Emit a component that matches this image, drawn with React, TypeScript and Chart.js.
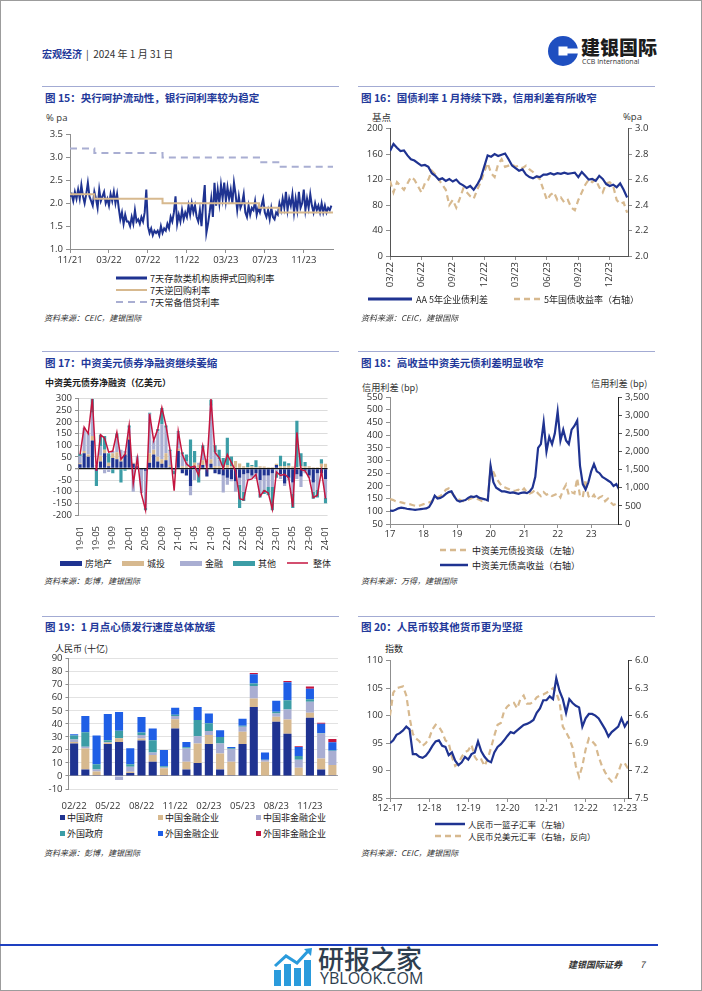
import React, { useEffect, useRef } from "react";
import { Chart, registerables } from "chart.js";

Chart.register(...registerables);

// ---------------- Figure 15 ----------------
const c15TickPos = [0, 4, 8, 12, 16, 20, 24];
const c15TickLabels = ["11/21", "03/22", "07/22", "11/22", "03/23", "07/23", "11/23"];
const c15YTicks = [1.0, 1.5, 2.0, 2.5, 3.0, 3.5];
// DR007, ~6 readings per month from Nov 2021
const c15Dr007 = [
  2.15, 2.2, 2.05, 2.25, 2.1, 2.3,
  2.1, 2.4, 2.15, 2.0, 2.2, 2.45,
  2.15, 2.05, 1.95, 2.25, 2.1, 1.9,
  2.3, 2.05, 2.15, 2.25, 2.0, 2.1,
  1.95, 2.2, 2.05, 2.25, 2.0, 2.2,
  1.9, 1.65, 1.8, 1.55, 1.75, 1.6,
  1.6, 1.5, 1.7, 1.55, 1.85, 1.6,
  1.65, 1.55, 1.7, 1.6, 1.8, 2.3,
  1.5, 1.35, 1.45, 1.3, 1.4, 1.35,
  1.4, 1.3, 1.5, 1.35, 1.45, 1.4,
  1.55, 1.45, 1.7, 1.6, 1.8, 2.15,
  1.55, 1.75, 1.6, 1.85, 1.65, 1.8,
  1.7, 1.95, 1.75, 2.0, 1.8, 1.95,
  1.7, 1.6, 1.85, 1.5, 2.0, 2.4,
  1.35, 1.55, 1.8, 2.1, 1.7, 2.45,
  1.95, 2.3, 2.0, 2.4, 2.1, 2.45,
  2.05, 2.35, 2.1, 2.3, 2.0, 2.45,
  2.2, 1.85, 2.15, 1.9, 2.0, 2.2,
  1.8, 1.7, 1.95, 1.75, 1.9, 1.85,
  2.05, 1.75, 1.9, 1.8, 1.95, 2.1,
  1.8, 1.7, 1.85, 1.65, 1.9, 1.7,
  1.65, 1.8, 1.75, 2.0, 1.85, 2.1,
  1.9, 2.25, 1.85, 2.1, 1.95, 2.2,
  1.8, 2.1, 1.85, 2.25, 1.9, 2.0,
  2.3, 1.85, 2.1, 1.9, 2.2, 1.95,
  1.8, 2.0, 1.85, 1.95, 1.8, 2.0,
  1.8, 1.95, 1.8, 1.9, 1.85, 1.95,
];
const c15RepoFrom = [0, 2.5, 9.5, 19.4, 21.5, 27];
const c15RepoRate = [2.2, 2.1, 2.0, 1.9, 1.8, 1.8];
const c15SlfFrom = [0, 2.5, 9.5, 19.4, 21.5, 27];
const c15SlfRate = [3.2, 3.1, 3.0, 2.9, 2.8, 2.8];

// ---------------- Figure 16 ----------------
const c16TickPos = [0, 3, 6, 9, 12, 15, 18, 21];
const c16TickLabels = ["03/22", "06/22", "09/22", "12/22", "03/23", "06/23", "09/23", "12/23"];
const c16LeftTicks = [0, 40, 80, 120, 160, 200];
const c16RightTicks = [2.0, 2.2, 2.4, 2.6, 2.8, 3.0];
// ~3 readings per month from Mar 2022
const c16Spread = [
  165, 176, 170, 165, 166, 158, 152, 150, 146, 142,
  143, 140, 130, 126, 120, 122, 118, 121, 117, 120,
  114, 111, 107, 110, 104, 112, 122, 140, 158, 156,
  160, 157, 159, 161, 152, 142, 138, 134, 136, 128,
  124, 122, 125, 124, 128, 128, 130, 128, 130, 129,
  131, 129, 130, 131, 124, 132, 126, 120, 121, 118,
  126, 121, 113, 110, 112, 108, 114, 104, 92,
];
const c16Yield = [
  2.59, 2.5, 2.58, 2.55, 2.52, 2.57, 2.62, 2.6, 2.55, 2.5,
  2.57, 2.6, 2.67, 2.64, 2.6, 2.56, 2.52, 2.4, 2.44, 2.38,
  2.45, 2.53, 2.5, 2.47, 2.45, 2.52, 2.58, 2.66, 2.73, 2.65,
  2.62, 2.72, 2.76, 2.7, 2.71, 2.72, 2.7, 2.71, 2.69, 2.71,
  2.68, 2.66, 2.63, 2.6, 2.52, 2.44, 2.48, 2.5, 2.44, 2.46,
  2.42, 2.44, 2.38, 2.36, 2.44, 2.5, 2.56, 2.6, 2.58, 2.6,
  2.54, 2.5, 2.57, 2.58, 2.55, 2.44, 2.41, 2.42, 2.34,
];

// ---------------- Figure 17 ----------------
const c17Years = ["19", "20", "21", "22", "23"];
const c17MonthNames = ["01", "02", "03", "04", "05", "06", "07", "08", "09", "10", "11", "12"];
const c17Months = [...c17Years.flatMap((y) => c17MonthNames.map((m) => `${y}-${m}`)), "24-01"];
const c17YTicks = [-200, -150, -100, -50, 0, 50, 100, 150, 200, 250, 300];
const c17Property = [
  18, 65, 50, 120, -10, 30, 65, 10, 45, 40, 30, 60, 125, 20, 10, -5, -10, 25, 60, 30,
  20, 35, 5, -5, 75, -20, -30, -75, 10, -10, 15, -35, 20, -20, -25, -30,
  -40, -45, -55, -40, -25, -20, -30, -20, -50, -30, -30, -20, 15, -25, -65, -40, -60, -25, -35, -10, -30, -60, -20, -20, -45,
];
const c17Lgfv = [
  5, 10, 10, 20, 5, 25, 15, 15, 20, 30, 10, 5, 10, 5, 5, 0, 0, 40, 20, 20,
  20, 30, 10, 0, 10, 10, 10, 5, 15, 15, 20, 10, 20, 10, 10, 5,
  15, 10, 32, 21, 10, 5, 10, 5, 10, 8, 5, 5, 5, 10, 10, 12, 8, 5, 10, 8, 10, 5, 5, 20, 20,
];
const c17Financial = [
  30, 100, 95, 100, 10, 40, -20, -15, 10, 60, 40, 10, 40, -100, 40, -100, -160, 170, 40, 110,
  150, 110, 60, -5, 70, 50, 20, -40, -50, 10, 50, 30, 230, 60, 30, -73,
  -30, -10, -45, -30, -75, -30, -10, -25, -60, -60, -50, -60, -20, -20, -10, -10, -50, -20, -45, -10, -10, -40, -70, -10, -80,
];
const c17Other = [
  10, 0, 0, 60, -65, 50, 60, 40, -20, 20, -60, -10, 10, 0, 0, 0, -10, 5, 0, 10,
  70, 10, 5, -15, 5, 10, 30, 120, 50, -50, 15, 0, 25, 30, 40, 40,
  117, 42, 0, -100, -40, 20, 5, 30, -15, -20, -35, -100, -20, 45, 20, 10, -60, 200, 55, 20, 0, -30, -35, 20, -25,
];
const c17Total = [
  60, 178, 150, 300, -10, 145, 130, 70, 75, 155,
  40, 60, 185, -65, 45, -110, -178, 235, 120, 170,
  262, 185, 80, -95, 160, 60, 20, 5, 10, -30,
  96, 5, 298, 68, 47, 0, 60, 25, -10, -130,
  -135, -50, -45, -25, -120, -95, -105, -175, -15, -30,
  -25, -40, -165, 155, -5, -10, -40, -125, -115, -10, -130,
];

// ---------------- Figure 18 ----------------
const c18XTicks = [17, 18, 19, 20, 21, 22, 23];
const c18LeftTicks = [50, 100, 150, 200, 250, 300, 350, 400, 450, 500, 550];
const c18RightTicks = [0, 500, 1000, 1500, 2000, 2500, 3000, 3500];
// monthly from Jan 2017
const c18InvGrade = [
  148, 145, 140, 138, 135, 132, 130, 128, 125, 122, 120, 124,
  128, 130, 135, 140, 150, 155, 160, 170, 185, 190, 175, 160,
  150, 145, 140, 140, 145, 150, 155, 150, 145, 140, 140, 145,
  275, 255, 230, 215, 200, 195, 190, 185, 180, 182, 185, 178,
  190, 175, 170, 175, 185, 170, 160, 175, 165, 170, 160, 165,
  170, 155, 185, 205, 165, 175, 170, 230, 160, 155, 225, 160,
  150, 165, 145, 155, 160, 140, 150, 135, 125, 130, 118,
];
const c18HighYield = [
  370, 360, 390, 430, 450, 440, 420, 410, 400, 390, 400, 410,
  420, 430, 470, 600, 780, 700, 720, 760, 830, 880, 900, 760,
  650, 620, 640, 660, 720, 760, 740, 770, 720, 700, 680, 650,
  1600, 1150, 1000, 950, 900, 900, 880, 860, 870, 850, 830, 860,
  870, 850, 900, 1000, 1300, 2100, 2200, 2800, 2000, 2400, 2200, 2500,
  3100, 2300, 2600, 2300, 2200, 2600, 2700, 2850, 1600, 1100, 950, 1150,
  1450, 1650, 1450, 1400, 1300, 1250, 1200, 1150, 1050, 1100, 950,
];

// ---------------- Figure 19 ----------------
const c19Months = [
  "02/22", "03/22", "04/22", "05/22", "06/22", "07/22", "08/22", "09/22", "10/22", "11/22", "12/22", "01/23",
  "02/23", "03/23", "04/23", "05/23", "06/23", "07/23", "08/23", "09/23", "10/23", "11/23", "12/23", "01/24",
];
const c19YTicks = [-10, 0, 10, 20, 30, 40, 50, 60, 70, 80, 90];
const c19CnGov = [25, 5, 0.5, 24.5, 26, 2.3, 27.3, 11, 0.5, 36.5, 5, 10, 24.5, 5, 0.5, 24.5, 53, 0, 41.6, 32.4, 0.3, 44.6, 5, 0.5];
const c19CnFin = [1, 16, 3, 1, 3, 1, 1.5, 5, 5.5, 7, 6, 15, 7, 12.3, 10.5, 9.5, 6.4, 11, 3.8, 11, 6, 4, 8.5, 8];
const c19CnNonFin = [2, 1.5, 1.5, 0.5, -3, 3.7, 2.6, 2, 0.5, 2.5, 10, 5.4, 3, 7.7, 9.7, 3.7, 9.6, 1.3, 2.6, 7.6, 6.2, 8.3, 19, 10.6];
const c19FgGov = [3, 11, 4, 1.5, 5.7, 2, 2, 9.5, 1, 1, 1, 12.5, 6, 5, 0.5, 0.8, 2, 0.2, 1.2, 7.2, 2.8, 2, 0.5, 0.5];
const c19FgFin = [1, 12.5, 22, 20, 14.3, 12.2, 11.8, 9, 12.5, 5.3, 4, 10, 7.4, 5, 1, 5.5, 7, 5.5, 8.5, 13.8, 7, 8, 7, 6.2];
const c19FgNonFin = [0, 0, 0, 0, 0, 0, 0, 0, 0, 0, 0, 0, 0, 0, 0, 0, 1, 0, 0, 0.8, 0.6, 1.7, 0.8, 2.6];

// ---------------- Figure 20 ----------------
const c20XTicks = [0, 12, 24, 36, 48, 60, 72];
const c20XLabels = ["12-17", "12-18", "12-19", "12-20", "12-21", "12-22", "12-23"];
const c20LeftTicks = [85, 90, 95, 100, 105, 110];
const c20RightTicks = [6.0, 6.3, 6.6, 6.9, 7.2, 7.5];
// monthly from Dec 2017
const c20Basket = [
  95.0, 95.5, 96.5, 96.8, 97.3, 98.0, 97.5, 93.0, 93.0, 92.5, 92.3, 92.7,
  93.5, 94.5, 95.3, 95.5, 94.5, 94.3, 92.8, 93.3, 91.8, 91.0, 91.5, 92.5,
  92.0, 93.0, 93.3, 95.3, 93.5, 92.5, 91.8, 91.5, 93.3, 94.3, 94.8, 95.5,
  96.3, 97.0, 96.8, 97.3, 97.8, 98.3, 98.5, 98.8, 99.2, 100.5, 101.3, 102.8,
  102.8, 103.5, 103.0, 106.8, 104.5, 103.0, 100.5, 103.0, 102.3, 101.8, 101.5, 98.0,
  99.5, 100.3, 100.3, 100.0, 99.5, 98.5, 97.5, 96.2, 97.0, 97.5, 98.0, 99.5,
  98.0, 99.0,
];
const c20UsdCny = [
  6.6, 6.35, 6.3, 6.29, 6.28, 6.38, 6.62, 6.8, 6.85, 6.88, 6.93, 6.9,
  6.85, 6.75, 6.7, 6.72, 6.78, 6.87, 6.9, 7.05, 7.15, 7.12, 7.05, 7.0,
  6.98, 6.92, 7.05, 7.1, 7.08, 7.15, 7.07, 6.95, 6.82, 6.7, 6.68, 6.55,
  6.5, 6.47, 6.46, 6.52, 6.42, 6.38, 6.47, 6.47, 6.45, 6.4, 6.38, 6.37,
  6.35, 6.33, 6.3, 6.35, 6.45, 6.72, 6.78, 6.85, 6.95, 7.15, 7.27, 7.15,
  6.97, 6.85, 6.88, 6.92, 7.05, 7.15, 7.22, 7.28, 7.32, 7.3, 7.22, 7.12,
  7.12, 7.18,
];

// ---------------- styles ----------------
const NAVY = "#1F3391";
const TAN = "#D7B98F";
const LAV = "#A9AED2";
const TEAL = "#3C9DA6";
const RED = "#C4153F";
const BRIGHT = "#1F5FE6";
const TITLE = "#23399A";
const AXIS = "#8F8F8F";
const DARKAXIS = "#555555";
const TXT = "#333333";
const CJK = "'Noto Sans CJK SC', 'Noto Sans', sans-serif";
const LATIN = "'Open Sans', 'Noto Sans', sans-serif";
const TICKFONT = { family: LATIN, size: 9.5 };

const fixW = (w: number) => (s: any) => { s.width = w; };
const fixH = (h: number) => (s: any) => { s.height = h; };
const setTicks = (vals: number[]) => (s: any) => { s.ticks = vals.map((v) => ({ value: v })); };
const labelFrom = (pos: number[], labels: string[]) => (v: any) => {
  const k = pos.indexOf(Number(v));
  return k >= 0 ? labels[k] : "";
};

function base(padding: any) {
  return {
    responsive: false,
    animation: false,
    devicePixelRatio: 1,
    events: [],
    layout: { padding },
    plugins: { legend: { display: false }, tooltip: { enabled: false }, title: { display: false } },
  };
}

function tickAxisGrid(color = AXIS) {
  return { drawOnChartArea: false, drawTicks: true, tickLength: 4, color };
}

// ---------------- configs ----------------
function cfg15() {
  return {
    type: "line",
    data: {
      datasets: [
        { data: c15RepoFrom.map((x, i) => ({ x, y: c15RepoRate[i] })), borderColor: TAN, borderWidth: 2, stepped: true, pointRadius: 0 },
        { data: c15SlfFrom.map((x, i) => ({ x, y: c15SlfRate[i] })), borderColor: LAV, borderWidth: 2, borderDash: [7, 5], stepped: true, pointRadius: 0 },
        { data: c15Dr007.map((y, i) => ({ x: i / 6, y })), borderColor: NAVY, borderWidth: 2, pointRadius: 0, tension: 0 },
      ],
    },
    options: {
      ...base({ top: 8, right: 7, left: 0, bottom: 0 }),
      scales: {
        x: {
          type: "linear", min: 0, max: 27,
          afterFit: fixH(19), afterBuildTicks: setTicks(c15TickPos),
          ticks: { callback: labelFrom(c15TickPos, c15TickLabels), font: TICKFONT, color: TXT, maxRotation: 0, autoSkip: false, padding: 2 },
          grid: tickAxisGrid(), border: { color: AXIS },
        },
        y: {
          min: 1, max: 3.5, afterFit: fixW(30), afterBuildTicks: setTicks(c15YTicks),
          ticks: { callback: (v: any) => Number(v).toFixed(1), font: TICKFONT, color: TXT, padding: 3, autoSkip: false },
          grid: tickAxisGrid(), border: { color: AXIS },
        },
      },
    },
  };
}

function cfg16() {
  return {
    type: "line",
    data: {
      datasets: [
        { data: c16Spread.map((y, i) => ({ x: i / 3, y })), yAxisID: "y", borderColor: NAVY, borderWidth: 2.2, pointRadius: 0, tension: 0 },
        { data: c16Yield.map((y, i) => ({ x: i / 3, y })), yAxisID: "y1", borderColor: TAN, borderWidth: 2.2, borderDash: [6, 4], pointRadius: 0, tension: 0 },
      ],
    },
    options: {
      ...base({ top: 8, right: 0, left: 0, bottom: 0 }),
      scales: {
        x: {
          type: "linear", min: 0, max: 22.75,
          afterFit: fixH(39), afterBuildTicks: setTicks(c16TickPos),
          ticks: { callback: labelFrom(c16TickPos, c16TickLabels), font: TICKFONT, color: TXT, minRotation: 90, maxRotation: 90, autoSkip: false, padding: 2 },
          grid: tickAxisGrid(), border: { color: DARKAXIS },
        },
        y: {
          position: "left", min: 0, max: 200, afterFit: fixW(35), afterBuildTicks: setTicks(c16LeftTicks),
          ticks: { font: TICKFONT, color: TXT, padding: 3, autoSkip: false },
          grid: tickAxisGrid(), border: { color: DARKAXIS },
        },
        y1: {
          position: "right", min: 2.0, max: 3.0, afterFit: fixW(37), afterBuildTicks: setTicks(c16RightTicks),
          ticks: { callback: (v: any) => Number(v).toFixed(1), font: TICKFONT, color: TXT, padding: 3, autoSkip: false },
          grid: tickAxisGrid(), border: { color: DARKAXIS },
        },
      },
    },
  };
}

function cfg17() {
  const bar = (label: string, data: number[], color: string) => ({
    type: "bar", label, data, backgroundColor: color, stack: "s", order: 1, barPercentage: 0.78, categoryPercentage: 1.0,
  });
  return {
    type: "bar",
    data: {
      labels: c17Months,
      datasets: [
        { type: "line", label: "整体", data: c17Total, borderColor: RED, borderWidth: 1.5, pointRadius: 0, tension: 0, stack: "total", order: 0 },
        bar("房地产", c17Property, NAVY),
        bar("城投", c17Lgfv, TAN),
        bar("金融", c17Financial, LAV),
        bar("其他", c17Other, TEAL),
      ],
    },
    options: {
      ...base({ top: 7, right: 9, left: 0, bottom: 0 }),
      scales: {
        x: {
          stacked: true, afterFit: fixH(35),
          ticks: { callback: (_v: any, i: number) => (i % 4 === 0 ? c17Months[i] : ""), font: TICKFONT, color: TXT, minRotation: 90, maxRotation: 90, autoSkip: false, padding: 3 },
          grid: { display: false }, border: { display: false },
        },
        y: {
          stacked: true, min: -200, max: 300, afterFit: fixW(38), afterBuildTicks: setTicks(c17YTicks),
          ticks: { font: TICKFONT, color: TXT, padding: 3, autoSkip: false },
          grid: {
            drawTicks: true, tickLength: 3,
            color: (c: any) => (c.tick && c.tick.value === 0 ? "#111111" : "#DCDCDC"),
            lineWidth: (c: any) => (c.tick && c.tick.value === 0 ? 1.3 : 1),
            tickColor: AXIS,
          },
          border: { color: AXIS },
        },
      },
    },
  };
}

function cfg18() {
  return {
    type: "line",
    data: {
      datasets: [
        { data: c18HighYield.map((y, i) => ({ x: 17 + i / 12, y })), yAxisID: "y1", borderColor: NAVY, borderWidth: 2.2, pointRadius: 0, tension: 0 },
        { data: c18InvGrade.map((y, i) => ({ x: 17 + i / 12, y })), yAxisID: "y", borderColor: TAN, borderWidth: 2.2, borderDash: [6, 4], pointRadius: 0, tension: 0 },
      ],
    },
    options: {
      ...base({ top: 12, right: 0, left: 0, bottom: 0 }),
      scales: {
        x: {
          type: "linear", min: 17, max: 23.8,
          afterFit: fixH(16), afterBuildTicks: setTicks(c18XTicks),
          ticks: { callback: (v: any) => String(v), font: TICKFONT, color: TXT, maxRotation: 0, autoSkip: false, padding: 1 },
          grid: tickAxisGrid(), border: { color: AXIS },
        },
        y: {
          position: "left", min: 50, max: 550, afterFit: fixW(35), afterBuildTicks: setTicks(c18LeftTicks),
          ticks: { font: TICKFONT, color: TXT, padding: 3, autoSkip: false },
          grid: tickAxisGrid(), border: { color: AXIS },
        },
        y1: {
          position: "right", min: 0, max: 3500, afterFit: fixW(47), afterBuildTicks: setTicks(c18RightTicks),
          ticks: { callback: (v: any) => Number(v).toLocaleString("en-US"), font: TICKFONT, color: TXT, padding: 3, autoSkip: false },
          grid: tickAxisGrid(DARKAXIS), border: { color: "#222222" },
        },
      },
    },
  };
}

function cfg19() {
  const bar = (label: string, data: number[], color: string) => ({
    label, data, backgroundColor: color, stack: "s", barPercentage: 0.72, categoryPercentage: 1.0,
  });
  return {
    type: "bar",
    data: {
      labels: c19Months,
      datasets: [
        bar("中国政府", c19CnGov, NAVY),
        bar("中国金融企业", c19CnFin, TAN),
        bar("中国非金融企业", c19CnNonFin, LAV),
        bar("外国政府", c19FgGov, TEAL),
        bar("外国金融企业", c19FgFin, BRIGHT),
        bar("外国非金融企业", c19FgNonFin, RED),
      ],
    },
    options: {
      ...base({ top: 8, right: 2, left: 0, bottom: 0 }),
      scales: {
        x: {
          stacked: true, afterFit: fixH(21),
          ticks: { callback: (_v: any, i: number) => (i % 3 === 0 ? c19Months[i] : ""), font: TICKFONT, color: TXT, maxRotation: 0, autoSkip: false, padding: 4 },
          grid: { display: false }, border: { display: false },
        },
        y: {
          stacked: true, min: -10, max: 90, afterFit: fixW(28.5), afterBuildTicks: setTicks(c19YTicks),
          ticks: { font: TICKFONT, color: TXT, padding: 3, autoSkip: false },
          grid: {
            drawTicks: true, tickLength: 3,
            color: (c: any) => (c.tick && c.tick.value === 0 ? "#A6A6A6" : "#E2E2E2"),
            tickColor: AXIS,
          },
          border: { color: AXIS },
        },
      },
    },
  };
}

function cfg20() {
  return {
    type: "line",
    data: {
      datasets: [
        { data: c20Basket.map((y, i) => ({ x: i, y })), yAxisID: "y", borderColor: NAVY, borderWidth: 2.2, pointRadius: 0, tension: 0 },
        { data: c20UsdCny.map((y, i) => ({ x: i, y })), yAxisID: "y1", borderColor: TAN, borderWidth: 2.2, borderDash: [6, 4], pointRadius: 0, tension: 0 },
      ],
    },
    options: {
      ...base({ top: 8, right: 0, left: 0, bottom: 0 }),
      scales: {
        x: {
          type: "linear", min: 0, max: 73,
          afterFit: fixH(16), afterBuildTicks: setTicks(c20XTicks),
          ticks: { callback: labelFrom(c20XTicks, c20XLabels), font: TICKFONT, color: TXT, maxRotation: 0, autoSkip: false, padding: 1 },
          grid: tickAxisGrid(), border: { color: AXIS },
        },
        y: {
          position: "left", min: 85, max: 110, afterFit: fixW(35), afterBuildTicks: setTicks(c20LeftTicks),
          ticks: { font: TICKFONT, color: TXT, padding: 3, autoSkip: false },
          grid: tickAxisGrid(), border: { color: AXIS },
        },
        y1: {
          position: "right", min: 6.0, max: 7.5, reverse: true, afterFit: fixW(37), afterBuildTicks: setTicks(c20RightTicks),
          ticks: { callback: (v: any) => Number(v).toFixed(1), font: TICKFONT, color: TXT, padding: 3, autoSkip: false },
          grid: tickAxisGrid(DARKAXIS), border: { color: "#333333" },
        },
      },
    },
  };
}

// ---------------- components ----------------
function ChartCanvas({ x, y, w, h, make }: { x: number; y: number; w: number; h: number; make: () => any }) {
  const ref = useRef<HTMLCanvasElement>(null);
  useEffect(() => {
    const chart = new Chart(ref.current as HTMLCanvasElement, make());
    return () => chart.destroy();
  }, []);
  return <canvas ref={ref} width={w} height={h} style={{ position: "absolute", left: x, top: y, width: w, height: h }} />;
}

function Txt(props: any) {
  const { x, y, size = 9, color = "#222", bold = false, italic = false, family = CJK, weight, children } = props;
  return (
    <div
      style={{
        position: "absolute", left: x, top: y, fontSize: size, lineHeight: 1, color,
        fontWeight: weight || (bold ? 700 : 400), fontStyle: italic ? "italic" : "normal",
        fontFamily: family, whiteSpace: "nowrap",
      }}
    >
      {children}
    </div>
  );
}

function LineSample({ x, y, w, color, width, dash }: any) {
  return (
    <svg style={{ position: "absolute", left: x, top: y - 4, overflow: "visible" }} width={w} height={8}>
      <line x1={0} y1={4} x2={w} y2={4} stroke={color} strokeWidth={width} strokeDasharray={dash} />
    </svg>
  );
}

function Box({ x, y, w, h, color }: any) {
  return <div style={{ position: "absolute", left: x, top: y, width: w, height: h, background: color }} />;
}

function Title({ x, y, children }: any) {
  return <Txt x={x} y={y} size={10.5} color={TITLE} bold>{children}</Txt>;
}

function Source({ x, y, children }: any) {
  return <Txt x={x} y={y} size={8} color="#333" italic>{children}</Txt>;
}

export default function App() {
  return (
    <div style={{ position: "absolute", left: 0, top: 0, width: 702, height: 991, background: "#ffffff", overflow: "hidden" }}>
      {/* page frame */}
      <div style={{ position: "absolute", left: 0, top: 0, width: 702, height: 991, boxSizing: "border-box", border: "1px solid #9c9c9c" }} />

      {/* header */}
      <Txt x={42} y={49} size={10} color={TITLE} bold>宏观经济</Txt>
      <Txt x={86} y={49} size={10} color="#333">|&nbsp;&nbsp;2024 年 1 月 31 日</Txt>
      <svg style={{ position: "absolute", left: 548, top: 35 }} width={30} height={32} viewBox="0 0 30 32">
        <circle cx={15} cy={16} r={15} fill="#1F4FC0" />
        <rect x={10.5} y={11.5} width={9} height={9} fill="#fff" />
        <rect x={15} y={13.5} width={16} height={5} fill="#fff" />
      </svg>
      <Txt x={581} y={37} size={19} color="#1c1c1c" weight={900}>建银国际</Txt>
      <Txt x={582} y={58} size={7} color="#333" family={LATIN}>CCB International</Txt>

      {/* separators */}
      <Box x={42} y={86} w={297} h={1} color="#A3ABD3" />
      <Box x={358} y={86} w={297} h={1} color="#A3ABD3" />
      <Box x={42} y={351} w={297} h={1} color="#A3ABD3" />
      <Box x={358} y={351} w={297} h={1} color="#A3ABD3" />
      <Box x={42} y={616} w={297} h={1} color="#A3ABD3" />
      <Box x={358} y={616} w={297} h={1} color="#A3ABD3" />

      {/* Figure 15 */}
      <Title x={45} y={93}>图 15：央行呵护流动性，银行间利率较为稳定</Title>
      <Txt x={46} y={113} size={9.5} color={TXT} family={LATIN}>% pa</Txt>
      <ChartCanvas x={40} y={126} w={300} h={142} make={cfg15} />
      <LineSample x={116} y={278} w={31} color={NAVY} width={3} />
      <Txt x={150} y={273.5} size={9.2}>7天存款类机构质押式回购利率</Txt>
      <LineSample x={116} y={290} w={31} color={TAN} width={2} />
      <Txt x={150} y={285.5} size={9.2}>7天逆回购利率</Txt>
      <LineSample x={116} y={302} w={31} color={LAV} width={2} dash="7 5" />
      <Txt x={150} y={297.5} size={9.2}>7天常备借贷利率</Txt>
      <Source x={44} y={314}>资料来源：CEIC，建银国际</Source>

      {/* Figure 16 */}
      <Title x={361} y={93}>图 16：国债利率 1 月持续下跌，信用利差有所收窄</Title>
      <Txt x={372} y={112.5} size={9.5} color={TXT}>基点</Txt>
      <Txt x={623} y={112} size={9.5} color={TXT} family={LATIN}>%pa</Txt>
      <ChartCanvas x={355} y={120} w={310} h={175} make={cfg16} />
      <LineSample x={368} y={299} w={44} color={NAVY} width={3} />
      <Txt x={416} y={294.5} size={9}>AA 5年企业债利差</Txt>
      <LineSample x={514} y={299} w={27} color={TAN} width={2.5} dash="6 4" />
      <Txt x={544} y={294.5} size={9}>5年国债收益率（右轴）</Txt>
      <Source x={361} y={314}>资料来源：CEIC，建银国际</Source>

      {/* Figure 17 */}
      <Title x={45} y={358}>图 17：中资美元债券净融资继续萎缩</Title>
      <Txt x={45} y={377.5} size={9} color="#222" weight={600}>中资美元债券净融资（亿美元）</Txt>
      <ChartCanvas x={40} y={390} w={300} h={160} make={cfg17} />
      <Box x={60} y={560.5} w={22} h={5} color={NAVY} />
      <Txt x={85} y={558.5} size={9}>房地产</Txt>
      <Box x={122} y={560.5} w={22} h={5} color={TAN} />
      <Txt x={147} y={558.5} size={9}>城投</Txt>
      <Box x={180} y={560.5} w={22} h={5} color={LAV} />
      <Txt x={205} y={558.5} size={9}>金融</Txt>
      <Box x={233} y={560.5} w={22} h={5} color={TEAL} />
      <Txt x={258} y={558.5} size={9}>其他</Txt>
      <LineSample x={287} y={563} w={21} color={RED} width={1.5} />
      <Txt x={313} y={558.5} size={9}>整体</Txt>
      <Source x={44} y={577}>资料来源：彭博，建银国际</Source>

      {/* Figure 18 */}
      <Title x={361} y={358}>图 18：高收益中资美元债利差明显收窄</Title>
      <Txt x={362} y={382.5} size={9.2} color={TXT}>信用利差 (bp)</Txt>
      <Txt x={591} y={378.5} size={9.2} color={TXT}>信用利差 (bp)</Txt>
      <ChartCanvas x={355} y={385} w={310} h={155} make={cfg18} />
      <LineSample x={440} y={550} w={28} color={TAN} width={2.5} dash="6 4" />
      <Txt x={472} y={545.5} size={9}>中资美元债投资级（左轴）</Txt>
      <LineSample x={440} y={565} w={28} color={NAVY} width={2.5} />
      <Txt x={472} y={560.5} size={9}>中资美元债高收益（右轴）</Txt>
      <Source x={361} y={577}>资料来源：万得，建银国际</Source>

      {/* Figure 19 */}
      <Title x={45} y={622}>图 19：1 月点心债发行速度总体放缓</Title>
      <Txt x={55} y={643.5} size={9} color="#222">人民币 (十亿)</Txt>
      <ChartCanvas x={40} y={650} w={300} h={160} make={cfg19} />
      <Box x={60} y={814.5} w={5} h={5} color={NAVY} />
      <Txt x={67} y={812.5} size={9}>中国政府</Txt>
      <Box x={158} y={814.5} w={5} h={5} color={TAN} />
      <Txt x={165} y={812.5} size={9}>中国金融企业</Txt>
      <Box x={256} y={814.5} w={5} h={5} color={LAV} />
      <Txt x={263} y={812.5} size={9}>中国非金融企业</Txt>
      <Box x={60} y={830.5} w={5} h={5} color={TEAL} />
      <Txt x={67} y={828.5} size={9}>外国政府</Txt>
      <Box x={158} y={830.5} w={5} h={5} color={BRIGHT} />
      <Txt x={165} y={828.5} size={9}>外国金融企业</Txt>
      <Box x={256} y={830.5} w={5} h={5} color={RED} />
      <Txt x={263} y={828.5} size={9}>外国非金融企业</Txt>
      <Source x={44} y={849}>资料来源：彭博，建银国际</Source>

      {/* Figure 20 */}
      <Title x={361} y={622}>图 20：人民币较其他货币更为坚挺</Title>
      <Txt x={385} y={643.5} size={9} color="#222">指数</Txt>
      <ChartCanvas x={355} y={652} w={310} h={162} make={cfg20} />
      <LineSample x={435} y={824} w={30} color={NAVY} width={2.5} />
      <Txt x={468} y={819.5} size={8.5}>人民币一篮子汇率（左轴）</Txt>
      <LineSample x={435} y={836} w={30} color={TAN} width={2.5} dash="6 4" />
      <Txt x={468} y={831.5} size={8.5}>人民币兑美元汇率（右轴，反向）</Txt>
      <Source x={361} y={849}>资料来源：CEIC，建银国际</Source>

      {/* footer */}
      <Box x={0} y={944} w={658} h={2} color="#1E40C0" />
      <svg style={{ position: "absolute", left: 273, top: 948 }} width={40} height={38} viewBox="0 0 40 38">
        <rect x={1} y={22} width={7} height={16} fill="#2A9BDC" />
        <rect x={11} y={16} width={7} height={22} fill="#2A9BDC" />
        <rect x={21} y={20} width={7} height={18} fill="#2A9BDC" />
        <rect x={31} y={12} width={7} height={26} fill="#2A9BDC" />
        <polyline points="2,18 13,8 24,15 36,2" fill="none" stroke="#2A9BDC" strokeWidth={3} />
        <polygon points="31,1 39,0 38,8" fill="#2A9BDC" />
      </svg>
      <Txt x={318} y={945} size={26} color="#2E3E4E" weight={500}>研报之家</Txt>
      <Txt x={320} y={970} size={16} color="#2E3E4E" family={LATIN}>YBLOOK.COM</Txt>
      <Txt x={568} y={960} size={9} color="#333" italic bold>建银国际证券</Txt>
      <Txt x={640} y={960} size={9} color="#333" italic>7</Txt>
    </div>
  );
}
